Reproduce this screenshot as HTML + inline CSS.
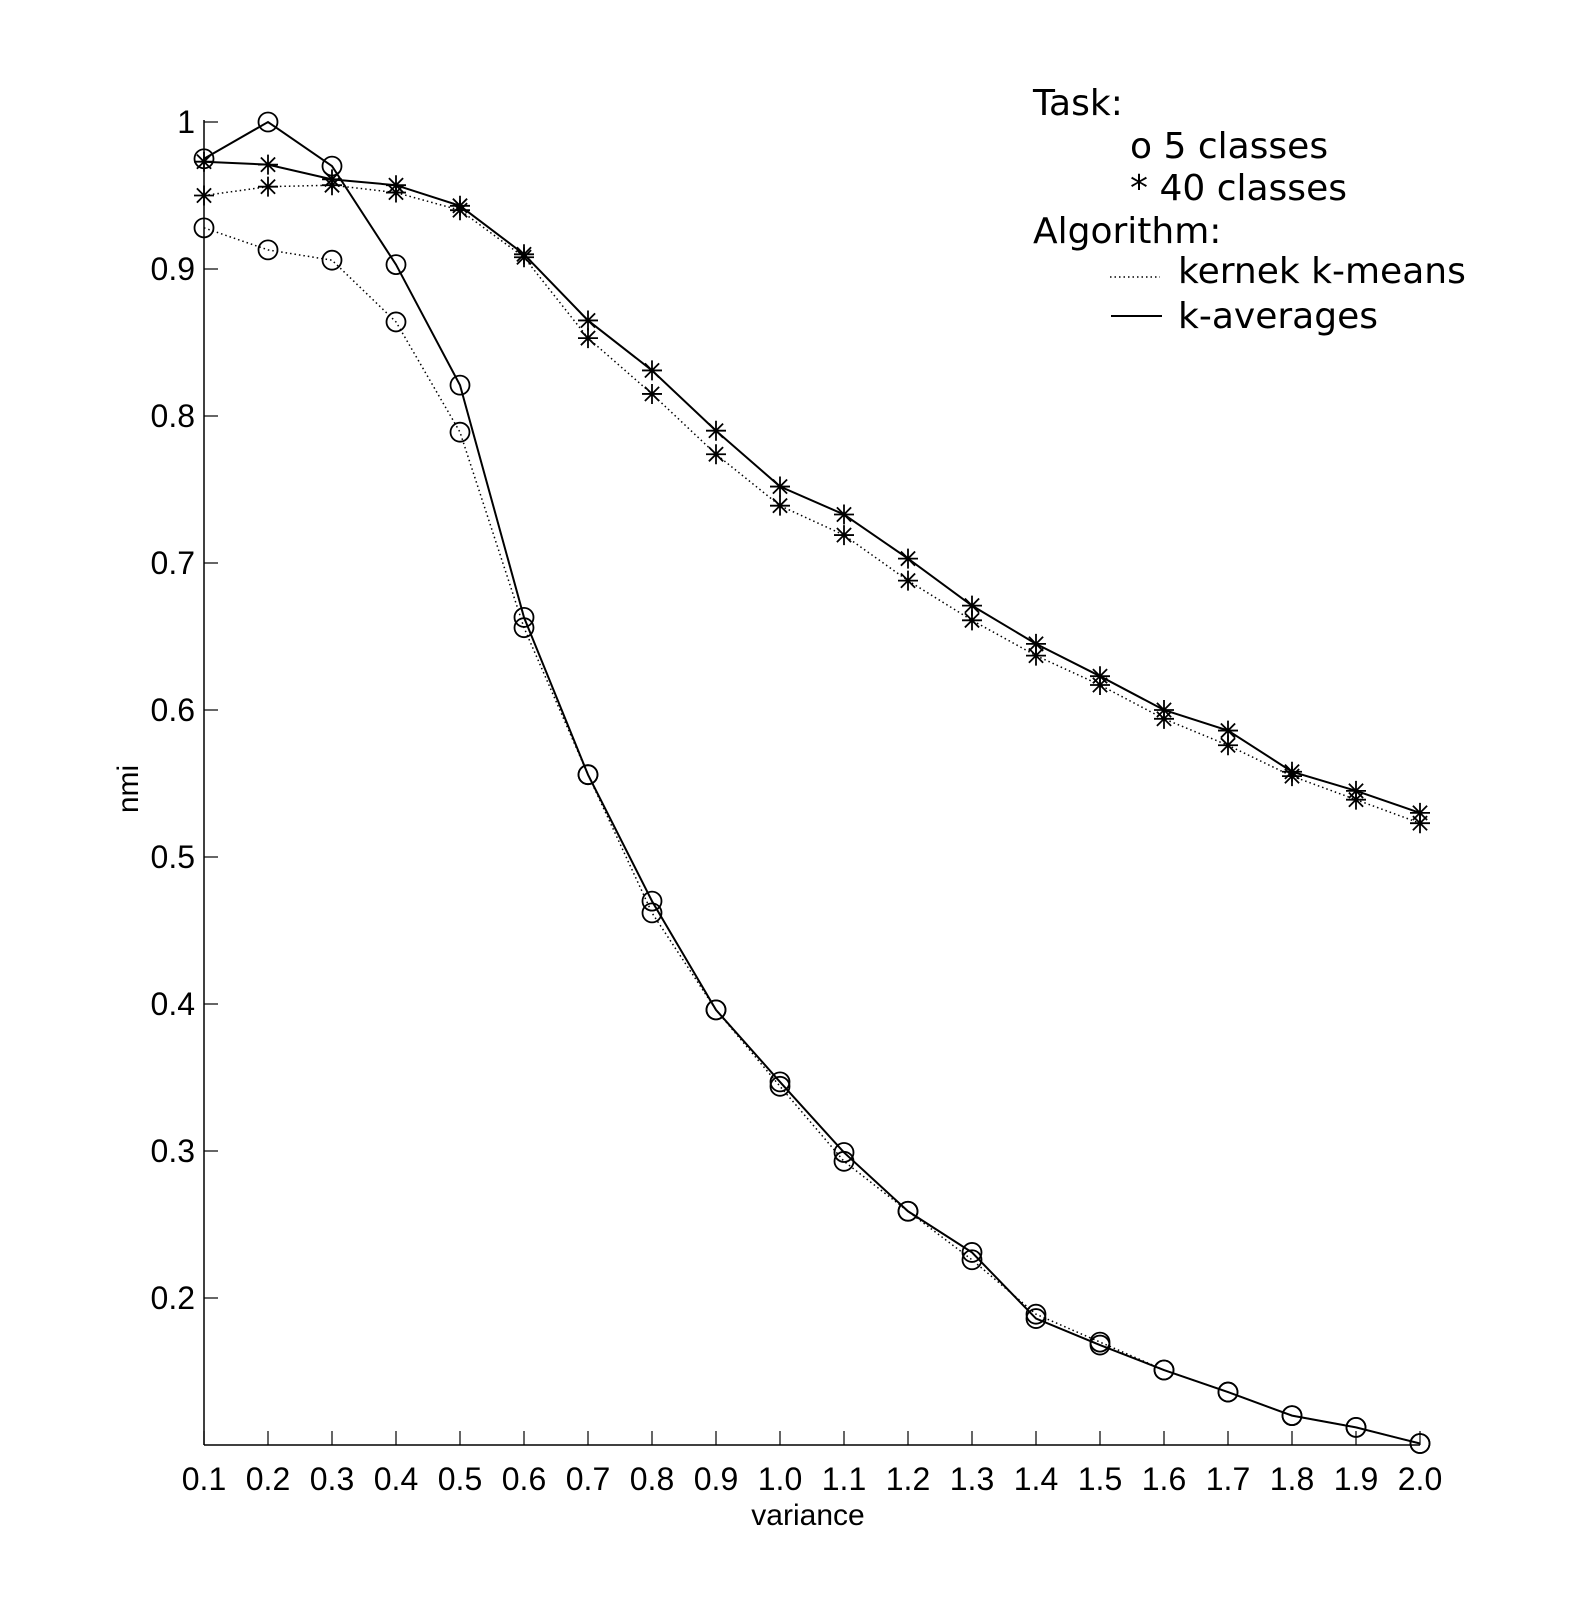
<!DOCTYPE html>
<html><head><meta charset="utf-8"><style>
body{margin:0;background:#fff}
svg{display:block}
</style></head><body>
<svg id="chart" width="1572" height="1624" xmlns="http://www.w3.org/2000/svg">
<rect width="1572" height="1624" fill="#fff"/>
<g id="axes"></g>
<g id="series"></g>
<text transform="translate(138,789) rotate(-90)" text-anchor="middle" font-family="Liberation Sans, sans-serif" font-size="30">nmi</text>
<text x="808" y="1525" text-anchor="middle" font-family="Liberation Sans, sans-serif" font-size="30">variance</text>
<g font-family="DejaVu Sans, sans-serif" font-size="36" fill="#000">
<text x="1033" y="115">Task:</text>
<text x="1130" y="158">o 5 classes</text>
<text x="1130" y="200">* 40 classes</text>
<text x="1033" y="243">Algorithm:</text>
<line x1="1110" y1="277" x2="1160" y2="277" stroke="#000" stroke-width="1.5" stroke-dasharray="1.5,3"/>
<text x="1178" y="283">kernek k-means</text>
<line x1="1111" y1="316" x2="1162" y2="316" stroke="#000" stroke-width="2"/>
<text x="1178" y="328">k-averages</text>
</g>
</svg>
<script>
const categories = [0.1,0.2,0.3,0.4,0.5,0.6,0.7,0.8,0.9,1.0,1.1,1.2,1.3,1.4,1.5,1.6,1.7,1.8,1.9,2.0];
const xTickLabels = ["0.1","0.2","0.3","0.4","0.5","0.6","0.7","0.8","0.9","1.0","1.1","1.2","1.3","1.4","1.5","1.6","1.7","1.8","1.9","2.0"];
const yTicks = [0.2,0.3,0.4,0.5,0.6,0.7,0.8,0.9,1];
const yTickLabels = ["0.2","0.3","0.4","0.5","0.6","0.7","0.8","0.9","1"];
const kernel5 = [0.928,0.913,0.906,0.864,0.789,0.656,0.556,0.462,0.396,0.344,0.293,0.259,0.226,0.189,0.170,0.151,0.136,0.120,0.112,0.101];
const kavg5 = [0.975,1.0,0.970,0.903,0.821,0.663,0.556,0.470,0.396,0.347,0.299,0.259,0.231,0.186,0.168,0.151,0.136,0.120,0.112,0.101];
const kernel40 = [0.950,0.956,0.957,0.952,0.940,0.908,0.853,0.815,0.774,0.739,0.719,0.688,0.661,0.637,0.617,0.594,0.576,0.555,0.539,0.523];
const kavg40 = [0.973,0.971,0.961,0.957,0.943,0.910,0.865,0.831,0.790,0.752,0.733,0.703,0.671,0.645,0.623,0.600,0.586,0.558,0.545,0.530];

const NS="http://www.w3.org/2000/svg";
const X0=204, X1=1420, Y0=1445, Y1=122;
function xs(v){return X0+(v-0.1)/(2.0-0.1)*(X1-X0);}
function ys(v){return Y0-(v-0.1)/(1-0.1)*(Y0-Y1);}
function mk(tag,attrs,parent){const e=document.createElementNS(NS,tag);for(const k in attrs)e.setAttribute(k,attrs[k]);parent.appendChild(e);return e;}
const axes=document.getElementById('axes'), series=document.getElementById('series');
let el=mk('line',{x1:X0,y1:Y0,x2:X0,y2:Y1-2,stroke:'#000','stroke-width':1.5},axes);


el=mk('line',{x1:X0,y1:Y0,x2:X1,y2:Y0,stroke:'#000','stroke-width':1.5},axes);


categories.forEach((c,i)=>{
  const t=mk('line',{x1:xs(c),y1:Y0,x2:xs(c),y2:Y0-14,stroke:'#000','stroke-width':1.2},axes);
  
  
  const l=mk('text',{x:xs(c),y:Y0+45,'text-anchor':'middle','font-family':'Liberation Sans, sans-serif','font-size':32},axes);
  l.textContent=xTickLabels[i];
  
  
});
yTicks.forEach((v,i)=>{
  const t=mk('line',{x1:X0,y1:ys(v),x2:X0+14,y2:ys(v),stroke:'#000','stroke-width':1.2},axes);
  
  
  const l=mk('text',{x:X0-9,y:ys(v)+11,'text-anchor':'end','font-family':'Liberation Sans, sans-serif','font-size':32},axes);
  l.textContent=yTickLabels[i];
  
  
});
function drawSeries(vals,name,dotted,marker){
  const pts=vals.map((v,i)=>xs(categories[i])+','+ys(v)).join(' ');
  const pl=mk('polyline',{points:pts,fill:'none',stroke:'#000','stroke-width':dotted?1.5:2},series);
  if(dotted)pl.setAttribute('stroke-dasharray','1.5,3');
  
  
  vals.forEach((v,i)=>{
    const cx=xs(categories[i]), cy=ys(v);
    let m;
    if(marker==='o'){
      m=mk('circle',{cx:cx,cy:cy,r:9.5,fill:'none',stroke:'#000','stroke-width':1.8},series);
    } else {
      const r=10, d=7.1;
      m=mk('path',{d:`M${cx-r},${cy}H${cx+r}M${cx},${cy-r}V${cy+r}M${cx-d},${cy-d}L${cx+d},${cy+d}M${cx-d},${cy+d}L${cx+d},${cy-d}`,stroke:'#000','stroke-width':1.8,fill:'none'},series);
    }
    
    
  });
}
drawSeries(kernel5,'kernel-kmeans-5-classes',true,'o');
drawSeries(kavg5,'k-averages-5-classes',false,'o');
drawSeries(kernel40,'kernel-kmeans-40-classes',true,'*');
drawSeries(kavg40,'k-averages-40-classes',false,'*');
</script>
</body></html>
